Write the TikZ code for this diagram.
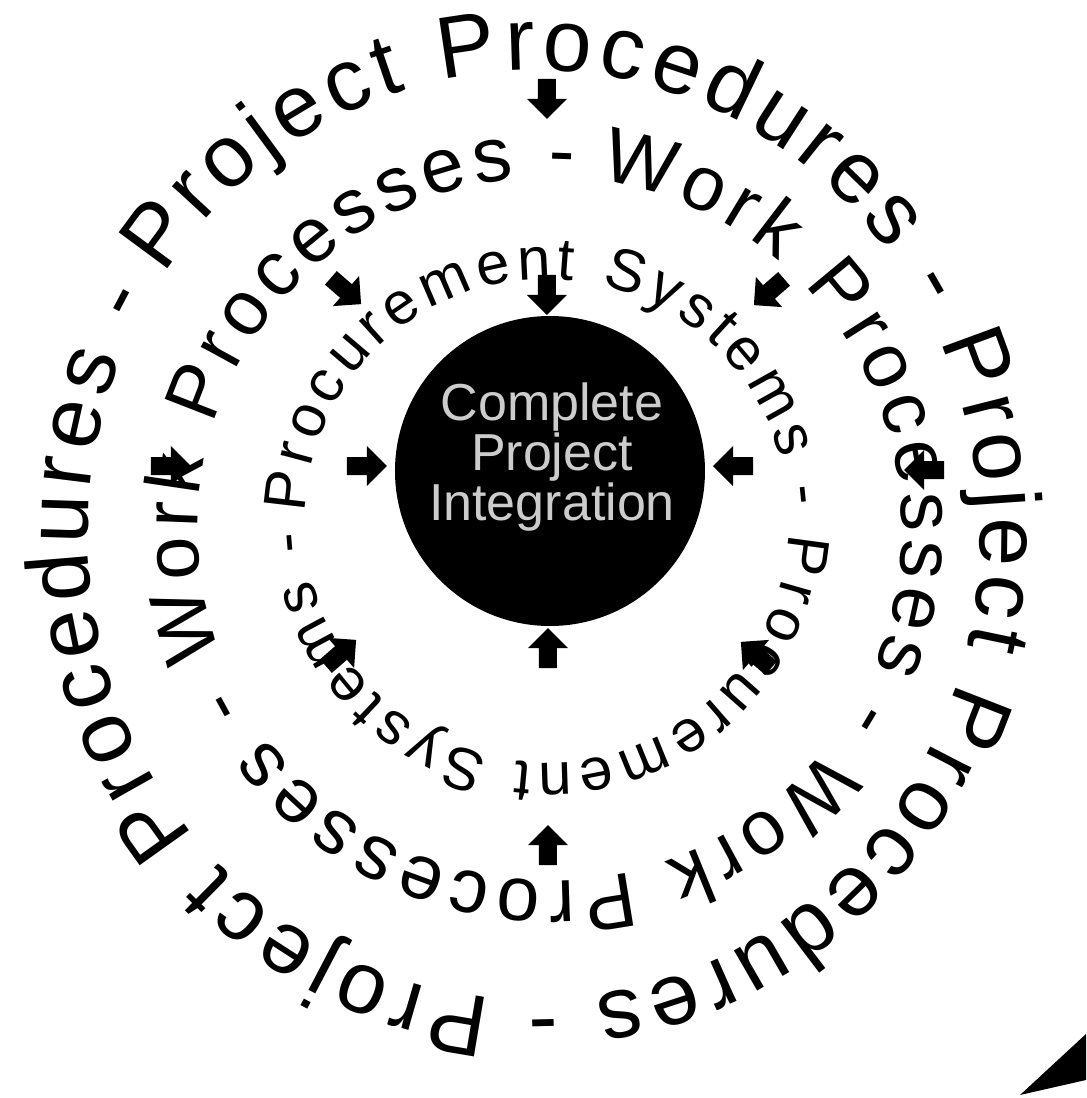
\documentclass[tikz,border=0pt]{standalone}
\usepackage{fontspec}
\setmainfont{Liberation Sans}
\usetikzlibrary{decorations.text}
\newcommand\corefont{\fontsize{29.6pt}{28.5pt}\selectfont}
\newcommand\innerfont{\fontsize{34pt}{40pt}\selectfont}
\newcommand\middlefont{\fontsize{44pt}{50pt}\selectfont}
\newcommand\outerfont{\fontsize{50pt}{56pt}\selectfont}
\tikzset{
  inarrow/.pic={\fill (-20,-9)--(0,-9)--(0,-20)--(20,0)--(0,20)--(0,9)--(-20,9)--cycle;},
  ringtext/.style={decorate,decoration={text along path,#1}}
}
\begin{document}
\begin{tikzpicture}[x=0.2mm,y=0.2mm]
\useasboundingbox (-550,-627) rectangle (536,471);
\fill (0,0) circle (155);
\node[text=black!20,align=center,font=\corefont] (core) at (2,14) {Complete\\Project\\Integration};
\path[ringtext={text={|\innerfont|Procurement Systems - Procurement Systems -},text align={fit to path,right indent=11pt}}]
  (-3,-50) ++(178:242) arc[start angle=178,end angle=-182,radius=242];
\path[ringtext={text={|\middlefont|Work Processes - Work Processes - Work Processes -},text align={fit to path,right indent=14pt}}]
  (0,-58) ++(82:352) arc[start angle=82,end angle=-278,radius=352];
\path[ringtext={text={|\outerfont|Project Procedures - Project Procedures - Project Procedures -},text align={fit to path,right indent=16pt}}]
  (-16,-64) ++(146:446 and 465) arc[start angle=146,end angle=-214,x radius=446,y radius=465];
\pic[rotate=-90] at (-3,176) {inarrow};
\pic at (-183,5) {inarrow};
\pic[rotate=180] at (183,5) {inarrow};
\pic[rotate=90] at (-2,-177) {inarrow};
\pic[rotate=-41] at (-204,180) {inarrow};
\pic[rotate=-139] at (219,179) {inarrow};
\pic[rotate=41] at (-209,-182) {inarrow};
\pic[rotate=139] at (206,-184) {inarrow};
\pic[rotate=-90] at (-3,372) {inarrow};
\pic at (-379,5) {inarrow};
\pic[rotate=180] at (374,1) {inarrow};
\pic[rotate=90] at (-2,-374) {inarrow};
\fill (470,-624)--(536,-563)--(536,-609)--cycle;
\end{tikzpicture}
\end{document}
